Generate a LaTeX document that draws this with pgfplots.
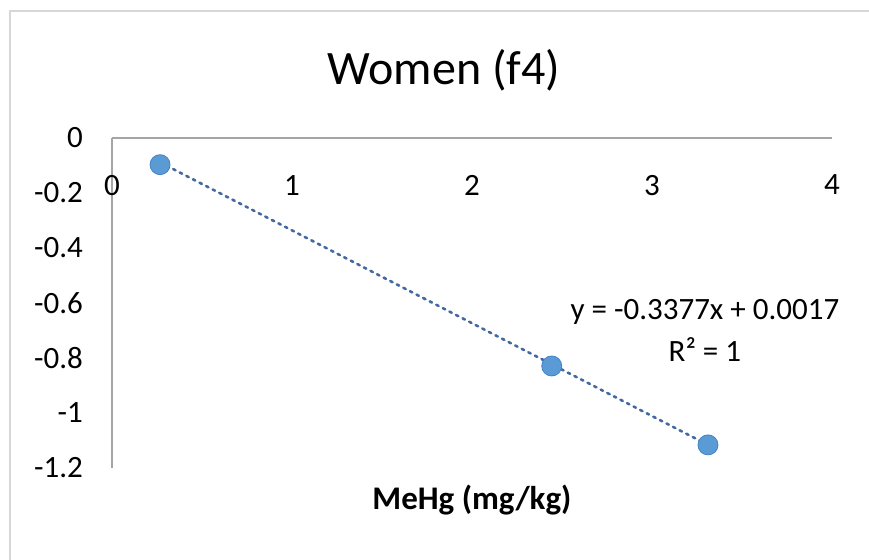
\documentclass[border=0pt]{standalone}
\usepackage{pgfplots}
\pgfplotsset{compat=1.18}
\usepackage{fontspec}
\setmainfont{Carlito}
\definecolor{ptblue}{RGB}{91,155,213}
\definecolor{ptedge}{RGB}{70,130,195}
\definecolor{trend}{RGB}{68,105,160}
\definecolor{axgray}{RGB}{165,165,165}
\definecolor{bordergray}{RGB}{215,215,215}
\begin{document}
\begin{tikzpicture}
\path[use as bounding box] (0pt,0pt) rectangle (434.5pt,280pt);
\draw[bordergray,line width=1.2pt] (5pt,0pt) -- (5pt,274.5pt) -- (434.5pt,274.5pt);
\begin{axis}[
  at={(56pt,46pt)}, anchor=south west,
  scale only axis, width=360pt, height=165pt,
  xmin=0, xmax=4, ymin=-1.2, ymax=0,
  axis x line*=top, axis y line*=left,
  axis line style={axgray, line width=1pt, -},
  xtick={0,1,2,3,4}, ytick={0,-0.2,-0.4,-0.6,-0.8,-1,-1.2},
  major tick length=0pt,
  tick style={draw=none},
  xticklabel style={anchor=north, yshift=-15pt, font=\fontsize{15.5}{18}\selectfont},
  yticklabel style={xshift=-11pt, font=\fontsize{15.5}{18}\selectfont},
  /pgf/number format/assume math mode=true,
  yticklabel={\pgfmathprintnumber[fixed,precision=1]{\tick}},
  title={Women (f4)},
  title style={at={(axis description cs:0.5,1)}, anchor=center, yshift=28pt, xshift=-14pt, font=\fontsize{24}{27}\selectfont},
  xlabel={\textbf{MeHg (mg/kg)}},
  xlabel style={at={(axis description cs:0.5,0)}, anchor=center, yshift=-16pt, font=\fontsize{16.5}{19}\selectfont},
  clip=false,
]
\addplot[trend, line width=1.3pt, dash pattern=on 1.3pt off 2.4pt, line cap=round] coordinates {(0.267,-0.0885) (3.311,-1.116)};
\addplot[only marks, mark=*, mark size=5pt, mark options={fill=ptblue, draw=ptedge, line width=0.4pt}] coordinates {
(0.267,-0.097) (2.443,-0.829) (3.311,-1.116)};
\node[align=center, font=\fontsize{15.5}{21}\selectfont] at (axis cs:3.294,-0.70) {y = -0.3377x + 0.0017\\R² = 1};
\end{axis}
\end{tikzpicture}
\end{document}
